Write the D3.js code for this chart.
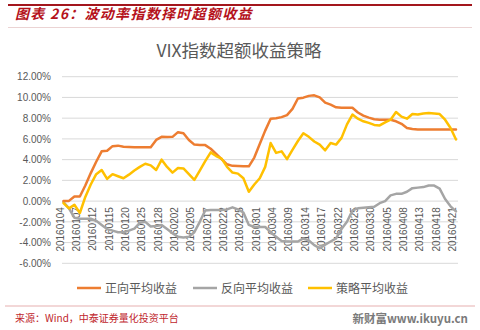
<!DOCTYPE html>
<html>
<head>
<meta charset="utf-8">
<script src="https://cdn.jsdelivr.net/npm/d3@7/dist/d3.min.js"></script>
<style>
  html, body { margin: 0; padding: 0; background: #fff; }
  svg { display: block; }
</style>
</head>
<body>
<div id="chart"></div>
<script>
// Trading days, 2016-01-04 .. 2016-04-21
const dates = [
  "20160104","20160105","20160106","20160107","20160108",
  "20160111","20160112","20160113","20160114","20160115",
  "20160118","20160119","20160120","20160121","20160122",
  "20160125","20160126","20160127","20160128","20160129",
  "20160201","20160202","20160203","20160204","20160205",
  "20160215","20160216","20160217","20160218","20160219",
  "20160222","20160223","20160224","20160225","20160226",
  "20160229","20160301","20160302","20160303","20160304",
  "20160307","20160308","20160309","20160310","20160311",
  "20160314","20160315","20160316","20160317","20160318",
  "20160321","20160322","20160323","20160324","20160325",
  "20160328","20160329","20160330","20160331","20160401",
  "20160405","20160406","20160407","20160408",
  "20160411","20160412","20160413","20160414","20160415",
  "20160418","20160419","20160420","20160421"
];

// Cumulative excess return, in percent
const positiveAvg = [
  0.00, 0.02, 0.45, 0.45, 1.50, 2.70, 3.80, 4.80, 4.85, 5.30,
  5.35, 5.25, 5.22, 5.20, 5.20, 5.20, 5.20, 5.90, 6.20, 6.18,
  6.20, 6.65, 6.55, 5.90, 5.45, 5.42, 5.40, 5.05, 4.55, 4.05,
  3.55, 3.40, 3.38, 3.36, 3.35, 4.20, 5.50, 6.80, 7.95, 8.00,
  8.10, 8.30, 8.90, 9.90, 9.98, 10.15, 10.20, 10.00, 9.50, 9.30,
  9.05, 9.00, 9.00, 9.00, 8.55, 8.25, 8.05, 7.90, 7.85, 7.85,
  7.85, 7.70, 7.45, 7.05, 6.95, 6.90, 6.90, 6.90, 6.90, 6.90,
  6.90, 6.90, 6.90
];
const negativeAvg = [
  -0.10, -0.70, -1.60, -1.70, -1.70, -1.70, -1.90, -2.30, -2.70, -2.85,
  -3.00, -3.00, -2.85, -2.65, -2.10, -2.00, -2.45, -2.40, -2.30, -2.70,
  -3.10, -3.45, -3.50, -3.45, -3.00, -2.00, -0.90, -0.85, -0.85, -0.85,
  -0.80, -0.60, -0.80, -1.10, -2.30, -2.50, -2.50, -2.50, -3.00, -3.45,
  -3.85, -3.90, -3.90, -3.90, -3.60, -3.80, -4.25, -4.55, -4.20, -3.90,
  -3.60, -2.70, -2.00, -0.90, -0.70, -0.65, -0.60, -0.55, -0.20, 0.00,
  0.55, 0.70, 0.70, 0.90, 1.25, 1.30, 1.35, 1.50, 1.50, 1.20,
  0.20, -0.50, -1.00
];
const strategyAvg = [
  -0.20, -0.70, -0.35, -1.15, 0.40, 1.60, 2.60, 3.00, 2.15, 2.60,
  2.40, 2.20, 2.55, 2.95, 3.30, 3.60, 3.45, 3.00, 4.00, 3.30,
  2.75, 3.20, 3.15, 2.60, 2.05, 2.95, 3.85, 4.70, 4.35, 4.10,
  3.30, 2.75, 2.65, 2.20, 0.90, 1.60, 2.20, 3.30, 5.60, 4.65,
  4.80, 4.05, 4.95, 5.80, 6.55, 6.20, 5.75, 5.45, 4.90, 5.60,
  5.45, 6.10, 7.40, 8.35, 7.95, 7.70, 7.55, 7.35, 7.30, 7.60,
  7.85, 8.60, 8.15, 7.95, 8.40, 8.35, 8.45, 8.50, 8.45, 8.40,
  7.85, 7.05, 5.95
];

const seriesNames = ["正向平均收益", "反向平均收益", "策略平均收益"];
const seriesColors = ["#ED7D31", "#A5A5A5", "#FFC000"];
const yTicks = [12, 10, 8, 6, 4, 2, 0, -2, -4, -6];

const W = 480, H = 330;
const svg = d3.select("#chart").append("svg")
  .attr("width", W).attr("height", H);

const cjk = "'Noto Sans CJK SC', 'Noto Sans', sans-serif";
const latin = "'Liberation Sans', Arial, sans-serif";

// Report header
svg.append("line").attr("x1", 8).attr("x2", 472).attr("y1", 5).attr("y2", 5)
  .attr("stroke", "#A3161D").attr("stroke-width", 2.2);
svg.append("text")
  .attr("x", 15).attr("y", 19)
  .attr("font-family", cjk).attr("font-size", 14).attr("font-weight", "bold")
  .attr("font-style", "italic").attr("letter-spacing", 1.3)
  .attr("fill", "#B5121B")
  .text("图表 26：波动率指数择时超额收益");
svg.append("line").attr("x1", 8).attr("x2", 472).attr("y1", 27.5).attr("y2", 27.5)
  .attr("stroke", "#E6C8C8").attr("stroke-width", 0.8);

// Chart title
svg.append("text")
  .attr("x", 239).attr("y", 57)
  .attr("text-anchor", "middle")
  .attr("font-family", cjk).attr("font-size", 17.5)
  .attr("fill", "#595959")
  .text("VIX指数超额收益策略");

// Scales
const x = d3.scalePoint().domain(dates).range([63.5, 456]);
const y = d3.scaleLinear().domain([-6, 12]).range([263.3, 76.7]);

// Horizontal gridlines
svg.append("g").selectAll("line").data(yTicks).join("line")
  .attr("x1", 62).attr("x2", 458)
  .attr("y1", d => y(d)).attr("y2", d => y(d))
  .attr("stroke", "#D9D9D9").attr("stroke-width", 1);

// Y axis labels
const yAxis = d3.axisLeft(y).tickValues(yTicks)
  .tickFormat(d => d.toFixed(2) + "%").tickSize(0).tickPadding(0);
const gy = svg.append("g").attr("transform", "translate(51,0)").call(yAxis);
gy.select(".domain").remove();
gy.selectAll("text")
  .attr("font-family", latin).attr("font-size", 10).attr("fill", "#595959");

// X axis labels, every third trading day, placed below the zero line
const xLabels = dates.filter((d, i) => i % 3 === 0);
const xAxis = d3.axisBottom(x).tickValues(xLabels).tickSize(0).tickPadding(0);
const gx = svg.append("g").attr("transform", `translate(0,${y(0)})`).call(xAxis);
gx.select(".domain").remove();
gx.selectAll("text")
  .attr("font-family", latin).attr("font-size", 10).attr("fill", "#595959")
  .attr("text-anchor", "end")
  .attr("transform", "translate(-4,6) rotate(-90)")
  .attr("x", 0).attr("y", 0).attr("dy", "0.35em");

// Series lines
const series = [positiveAvg, negativeAvg, strategyAvg];
const line = d3.line().x((d, i) => x(dates[i])).y(d => y(d));
const plotOrder = [1, 0, 2];
plotOrder.forEach(k => {
  svg.append("path")
    .datum(series[k])
    .attr("fill", "none")
    .attr("stroke", seriesColors[k])
    .attr("stroke-width", 2.5)
    .attr("stroke-linejoin", "round")
    .attr("stroke-linecap", "round")
    .attr("d", line);
});

// Legend
const legendX = [77, 193, 308];
const lg = svg.append("g");
seriesNames.forEach((name, k) => {
  lg.append("line")
    .attr("x1", legendX[k]).attr("x2", legendX[k] + 24)
    .attr("y1", 288).attr("y2", 288)
    .attr("stroke", seriesColors[k]).attr("stroke-width", 2.5);
  lg.append("text")
    .attr("x", legendX[k] + 28).attr("y", 292.5)
    .attr("font-family", cjk).attr("font-size", 12)
    .attr("fill", "#595959")
    .text(name);
});

// Footer
svg.append("line").attr("x1", 5).attr("x2", 475).attr("y1", 306).attr("y2", 306)
  .attr("stroke", "#E3A6A6").attr("stroke-width", 0.9);
svg.append("text")
  .attr("x", 15).attr("y", 322)
  .attr("font-family", "'Noto Sans CJK SC', 'DejaVu Sans Mono', monospace")
  .attr("font-size", 10).attr("fill", "#C0262D")
  .text("来源：Wind，中泰证券量化投资平台");
svg.append("text")
  .attr("x", 468).attr("y", 323)
  .attr("text-anchor", "end")
  .attr("font-family", cjk).attr("font-size", 11.5).attr("font-weight", "bold")
  .attr("fill", "#7A7A7A")
  .text("新财富www.ikuyu.cn");
</script>
</body>
</html>
